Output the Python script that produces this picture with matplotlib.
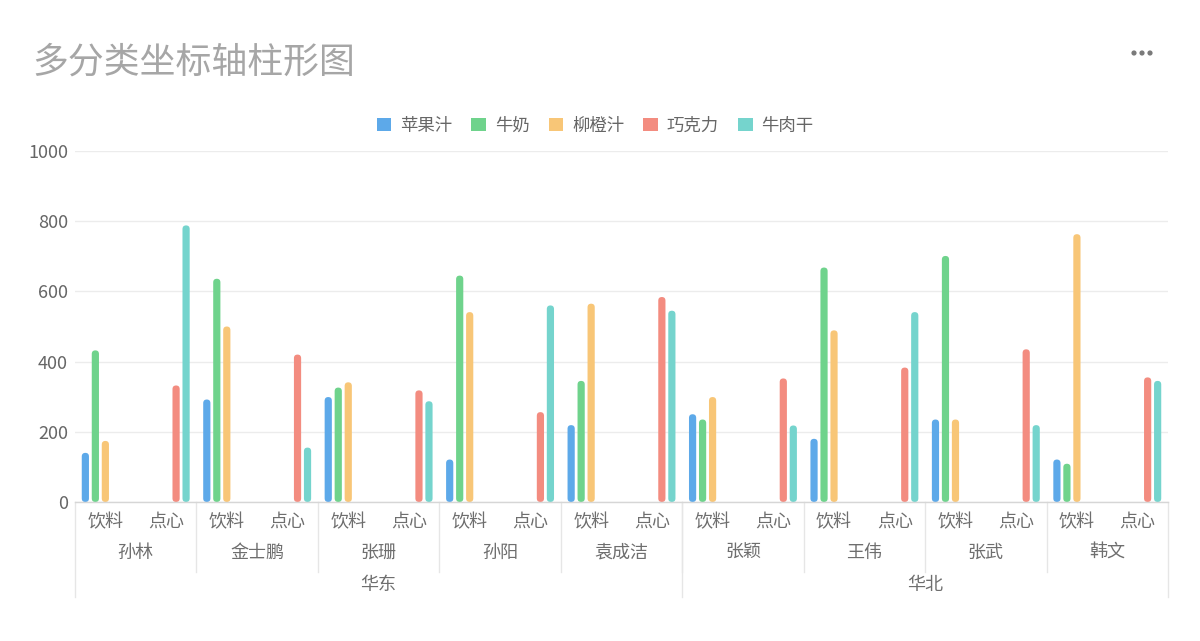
import matplotlib
matplotlib.use("Agg")
import matplotlib.pyplot as plt
from matplotlib.patches import FancyBboxPatch, Patch, Circle
import numpy as np

plt.rcParams['font.family'] = ['Noto Sans CJK SC', 'DejaVu Sans']

# ---------------- data ----------------
regions = ["华东", "华北"]
region_sizes = [5, 4]
persons = ["孙林", "金士鹏", "张珊", "孙阳", "袁成洁", "张颖", "王伟", "张武", "韩文"]
subcats = ["饮料", "点心"]
series_names = ["苹果汁", "牛奶", "柳橙汁", "巧克力", "牛肉干"]
series_subcat = [0, 0, 0, 1, 1]  # which subcategory each series belongs to
apple_juice = [140, 292, 299, 121, 219, 250, 180, 235, 121]
milk = [432, 636, 326, 645, 345, 235, 668, 701, 109]
orange_juice = [174, 500, 341, 541, 565, 299, 489, 235, 763]
chocolate = [332, 420, 318, 256, 584, 352, 383, 435, 355]
beef_jerky = [788, 155, 287, 560, 545, 218, 541, 219, 345]
series_values = [apple_juice, milk, orange_juice, chocolate, beef_jerky]
colors = ["#5DA9E9", "#6FD38C", "#F8C677", "#F38C80", "#75D4CD"]
yticks = [0, 200, 400, 600, 800, 1000]

# ---------------- figure ----------------
W, H = 1200, 641
fig = plt.figure(figsize=(W / 100, H / 100), dpi=100)
left, right, top, bottom = 75, 1168, 151, 502
ax = fig.add_axes([left / W, 1 - bottom / H, (right - left) / W, (bottom - top) / H])

n_cat = len(persons) * len(subcats)
ax.set_xlim(-0.5, n_cat - 0.5)
ax.set_ylim(0, 1000)

px_x = (right - left) / n_cat
px_y = (bottom - top) / 1000.0
step = 10.0 / px_x
bw = 7.2 / px_x
aspect = px_x / px_y
radius = bw / 2

n_series = len(series_names)
for s, (name, vals, col) in enumerate(zip(series_names, series_values, colors)):
    xs = np.arange(len(persons)) * len(subcats) + series_subcat[s] + (s - (n_series - 1) / 2) * step
    bars = ax.bar(xs, vals, width=bw, color=col)
    for r in list(bars):
        p = FancyBboxPatch((r.get_x(), r.get_y()), r.get_width(), r.get_height(),
                           boxstyle=f"round,pad=0,rounding_size={radius}",
                           mutation_aspect=aspect, facecolor=col, edgecolor='none',
                           zorder=3)
        ax.add_patch(p)
        r.remove()

# axes styling
for sp in ["top", "right", "left"]:
    ax.spines[sp].set_visible(False)
ax.spines["bottom"].set_color("#d6d6d6")
ax.spines["bottom"].set_linewidth(1)
ax.spines["bottom"].set_zorder(4)
ax.set_yticks(yticks)
ax.set_yticklabels([str(v) for v in yticks])
ax.tick_params(axis='y', length=0, pad=5, labelsize=13, labelcolor="#666666")
ax.set_xticks([])
ax.grid(axis='y', color="#ececec", linewidth=1, zorder=0)
ax.set_axisbelow(True)

# multi-level x axis
trans = ax.get_xaxis_transform()
h_ax = bottom - top
def yoff(px):
    return -px / h_ax

for i in range(n_cat):
    ax.text(i, yoff(20), subcats[i % len(subcats)], transform=trans, ha='center', va='center',
            fontsize=13, color="#6e6e6e", clip_on=False)
for j, name in enumerate(persons):
    cx = j * len(subcats) + (len(subcats) - 1) / 2
    ax.text(cx, yoff(51), name, transform=trans, ha='center', va='center',
            fontsize=13, color="#6e6e6e", clip_on=False)
# person dividers
for j in range(1, len(persons)):
    x = j * len(subcats) - 0.5
    ax.plot([x, x], [0, yoff(70)], transform=trans, color="#e6e6e6", lw=1, clip_on=False)
# regions
start = 0
bounds = [0]
for rname, rs in zip(regions, region_sizes):
    x0 = start * len(subcats) - 0.5
    x1 = (start + rs) * len(subcats) - 0.5
    ax.text((x0 + x1) / 2, yoff(83), rname, transform=trans, ha='center', va='center',
            fontsize=13, color="#6e6e6e", clip_on=False)
    start += rs
    bounds.append(start)
for b in bounds:
    x = b * len(subcats) - 0.5
    ax.plot([x, x], [0, yoff(95)], transform=trans, color="#e6e6e6", lw=1, clip_on=False)

# title
fig.text(32 / W, 1 - 63 / H, "多分类坐标轴柱形图", fontsize=25.8, color="#a6a6a6",
         ha='left', va='center')

# legend
handles = [Patch(facecolor=c, edgecolor='none') for c in colors]
fig.legend(handles, series_names, loc='center', bbox_to_anchor=(595 / W, 1 - 125.5 / H),
           ncol=5, frameon=False, fontsize=12.5, handlelength=0.85, handleheight=0.75,
           handletextpad=0.5, columnspacing=1.1, labelcolor="#666666")

# menu dots
for dx in (1134, 1142, 1150):
    fig.add_artist(Circle((dx, H - 53), 2.6, transform=None, facecolor="#7a7a7a",
                          edgecolor='none'))

fig.savefig("out.png", dpi=100)
